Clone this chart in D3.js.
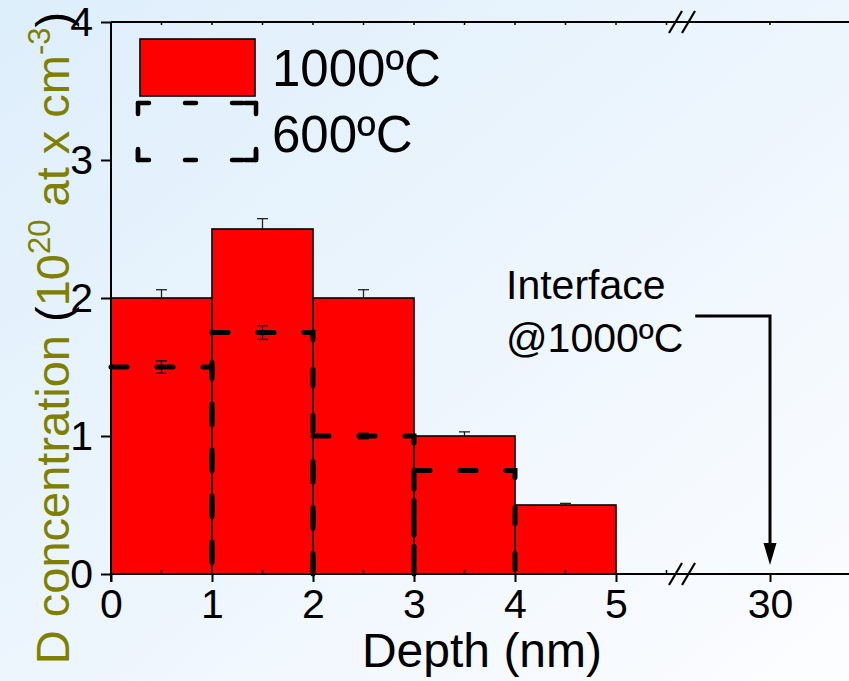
<!DOCTYPE html>
<html>
<head>
<meta charset="utf-8">
<script src="https://cdn.jsdelivr.net/npm/d3@7"></script>
<style>
  html, body { margin: 0; padding: 0; background: #ffffff; }
  svg { display: block; font-family: Arial, "Liberation Sans", sans-serif; }
</style>
</head>
<body>
<svg id="chart" width="849" height="681"></svg>
<script>
// Depth bins (nm) and deuterium concentration (10^20 at/cm^3)
const depthEdges = [0, 1, 2, 3, 4, 5];
const conc1000 = [2.0, 2.5, 2.0, 1.0, 0.5];
const err1000 = [0.06, 0.075, 0.06, 0.03, 0.012];
const conc600 = [1.5, 1.75, 1.0, 0.75];
const err600 = [0.045, 0.05, 0.02, 0.012];
const yTicks = [0, 1, 2, 3, 4];
const xTicksNear = [0, 1, 2, 3, 4, 5];
const xTicksFar = [30];
const interfaceDepth = 30;
const seriesNames = ["1000ºC", "600ºC"];

(function drawChart() {
const W = 849, H = 681;
const svg = d3.select("#chart");

// background wash
const defs = svg.append("defs");
const grad = defs.append("linearGradient").attr("id", "bg")
  .attr("x1", 0).attr("y1", 0).attr("x2", 1).attr("y2", 1);
grad.append("stop").attr("offset", 0).attr("stop-color", "#ddeefb");
grad.append("stop").attr("offset", 0.55).attr("stop-color", "#eef6fd");
grad.append("stop").attr("offset", 1).attr("stop-color", "#fcfdff");
svg.append("rect").attr("width", W).attr("height", H).attr("fill", "url(#bg)");

// broken x axis: near-surface segment and far segment around the interface
const xNear = d3.scaleLinear().domain([0, 5]).range([111, 616]);
const xFar = d3.scaleLinear().domain([29, 31]).range([669, 871]);
const y = d3.scaleLinear().domain([0, 4]).range([574, 22]);
const breakX = 682;
const plotLeft = xNear(0), plotRight = W, plotTop = y(4), plotBottom = y(0);

// 1000ºC bars
const g = svg.append("g");
conc1000.forEach((v, i) => {
  // upper error bar
  const cx = xNear((depthEdges[i] + depthEdges[i + 1]) / 2);
  g.append("line").attr("x1", cx).attr("x2", cx)
    .attr("y1", y(v)).attr("y2", y(v + err1000[i]))
    .attr("stroke", "#222").attr("stroke-width", 1.3);
  g.append("line").attr("x1", cx - 5.5).attr("x2", cx + 5.5)
    .attr("y1", y(v + err1000[i])).attr("y2", y(v + err1000[i]))
    .attr("stroke", "#222").attr("stroke-width", 1.3);
});
conc1000.forEach((v, i) => {
  g.append("rect")
    .attr("x", xNear(depthEdges[i]))
    .attr("y", y(v))
    .attr("width", xNear(depthEdges[i + 1]) - xNear(depthEdges[i]))
    .attr("height", y(0) - y(v))
    .attr("fill", "#ff0000")
    .attr("stroke", "#000").attr("stroke-width", 1.6);
});

// 600ºC bars: dashed outlines over the filled bars
// (the first bar's left side sits on the y axis and is left out)
const dashOn = 16, dashOff = 30, period = dashOn + dashOff;
conc600.forEach((v, i) => {
  const x0 = xNear(depthEdges[i]), x1 = xNear(depthEdges[i + 1]);
  const yTop = y(v), yBot = y(0);
  const leftLen = i === 0 ? 0 : yBot - yTop;
  const offset = (period - (leftLen % period)) % period;
  const d = i === 0
    ? `M${x0},${yTop} H${x1} V${yBot}`
    : `M${x0},${yBot} V${yTop} H${x1} V${yBot}`;
  g.append("path")
    .attr("d", d)
    .attr("fill", "none")
    .attr("stroke", "#000").attr("stroke-width", 5)
    .attr("stroke-linecap", "round")
    .attr("stroke-dasharray", `${dashOn},${dashOff}`)
    .attr("stroke-dashoffset", offset);
});
conc600.forEach((v, i) => {
  const cx = xNear((depthEdges[i] + depthEdges[i + 1]) / 2);
  const lo = y(v - err600[i]), hi = y(v + err600[i]);
  g.append("line").attr("x1", cx).attr("x2", cx).attr("y1", lo).attr("y2", hi)
    .attr("stroke", "#000").attr("stroke-width", 1.3);
  [lo, hi].forEach(yy => g.append("line")
    .attr("x1", cx - 5.5).attr("x2", cx + 5.5).attr("y1", yy).attr("y2", yy)
    .attr("stroke", "#000").attr("stroke-width", 1.3));
});

// axes frame lines
const axisG = svg.append("g").attr("stroke", "#000").attr("stroke-width", 2);
axisG.append("line").attr("x1", plotLeft).attr("x2", plotRight).attr("y1", plotBottom).attr("y2", plotBottom);
axisG.append("line").attr("x1", plotLeft).attr("x2", plotRight).attr("y1", plotTop).attr("y2", plotTop);
axisG.append("line").attr("x1", plotLeft).attr("x2", plotLeft).attr("y1", plotTop).attr("y2", plotBottom + 8);

// bottom axis (near + far) with outward major ticks
const tickFont = 41;
const bottomNear = d3.axisBottom(xNear).tickValues(xTicksNear).tickSize(8).tickPadding(6)
  .tickFormat(d3.format("d"));
const bottomFar = d3.axisBottom(xFar).tickValues(xTicksFar).tickSize(8).tickPadding(6)
  .tickFormat(d3.format("d"));
[bottomNear, bottomFar].forEach(ax => {
  const a = svg.append("g").attr("transform", `translate(0,${plotBottom})`).call(ax);
  a.select(".domain").remove();
  a.selectAll(".tick line").attr("stroke", "#000").attr("stroke-width", 2);
  a.selectAll(".tick text").attr("font-size", tickFont).attr("fill", "#000")
    .attr("font-family", "Arial, 'Liberation Sans', sans-serif").attr("dy", "0.72em");
});

// minor ticks (inward) on bottom, small ticks on top
const minorNear = d3.range(0.5, 5.6, 0.5);
svg.append("g").selectAll("line").data(minorNear).join("line")
  .attr("x1", d => xNear(d)).attr("x2", d => xNear(d))
  .attr("y1", plotBottom).attr("y2", plotBottom - 4)
  .attr("stroke", "#000").attr("stroke-width", 1.5);
svg.append("g").selectAll("line").data(minorNear.concat([0])).join("line")
  .attr("x1", d => xNear(d)).attr("x2", d => xNear(d))
  .attr("y1", plotTop).attr("y2", plotTop + 3)
  .attr("stroke", "#000").attr("stroke-width", 1.5);
svg.append("g").selectAll("line").data(xTicksFar).join("line")
  .attr("x1", d => xFar(d)).attr("x2", d => xFar(d))
  .attr("y1", plotTop).attr("y2", plotTop + 3)
  .attr("stroke", "#000").attr("stroke-width", 1.5);

// left axis
const leftAx = d3.axisLeft(y).tickValues(yTicks).tickSize(10).tickPadding(8)
  .tickFormat(d3.format("d"));
const la = svg.append("g").attr("transform", `translate(${plotLeft},0)`).call(leftAx);
la.select(".domain").remove();
la.selectAll(".tick line").attr("stroke", "#000").attr("stroke-width", 2);
la.selectAll(".tick text").attr("font-size", tickFont).attr("fill", "#000")
  .attr("font-family", "Arial, 'Liberation Sans', sans-serif");

// axis break marks
[plotTop, plotBottom].forEach(yy => {
  [breakX - 13, breakX].forEach(bx => {
    svg.append("line")
      .attr("x1", bx).attr("y1", yy + 11).attr("x2", bx + 13).attr("y2", yy - 11)
      .attr("stroke", "#000").attr("stroke-width", 2.2);
  });
});

// axis titles
svg.append("text")
  .attr("x", 482).attr("y", 667)
  .attr("text-anchor", "middle").attr("font-size", 48).attr("fill", "#000")
  .text("Depth (nm)");

const olive = "#808000";
const yTitle = svg.append("text")
  .attr("transform", "translate(69,338) rotate(-90)")
  .attr("text-anchor", "middle").attr("font-size", 47).attr("fill", olive);
yTitle.append("tspan").text("D concentration ");
yTitle.append("tspan").attr("fill", "#000").text("(");
yTitle.append("tspan").text("10");
yTitle.append("tspan").attr("font-size", 31).attr("dy", -19).text("20");
yTitle.append("tspan").attr("dy", 19).text(" at x cm");
yTitle.append("tspan").attr("font-size", 31).attr("dy", -19).text("-3");
yTitle.append("tspan").attr("dy", 19).attr("fill", "#000").text(")");

// legend
const leg = svg.append("g");
leg.append("rect").attr("x", 140).attr("y", 39).attr("width", 115).attr("height", 57)
  .attr("fill", "#ff0000").attr("stroke", "#000").attr("stroke-width", 1.6);
const bx0 = 138, bx1 = 256, by0 = 103, by1 = 160;
[[bx0, by0, bx1, by0], [bx1, by0, bx1, by1], [bx0, by1, bx1, by1], [bx0, by0, bx0, by1]]
  .forEach(([a, b, c, d]) => {
    leg.append("line").attr("x1", a).attr("y1", b).attr("x2", c).attr("y2", d)
      .attr("stroke", "#000").attr("stroke-width", 4.5)
      .attr("stroke-linecap", "round")
      .attr("stroke-dasharray", "11,36");
    leg.append("line").attr("x1", c).attr("y1", d).attr("x2", a).attr("y2", b)
      .attr("stroke", "#000").attr("stroke-width", 4.5)
      .attr("stroke-linecap", "round")
      .attr("stroke-dasharray", "11,200");
  });
leg.append("text").attr("x", 272).attr("y", 86).attr("font-size", 51).attr("fill", "#000")
  .text(seriesNames[0]);
leg.append("text").attr("x", 272).attr("y", 152).attr("font-size", 51).attr("fill", "#000")
  .text(seriesNames[1]);

// interface annotation
const ann = svg.append("g");
ann.append("text").attr("x", 506).attr("y", 299).attr("font-size", 41).attr("fill", "#000")
  .text("Interface");
ann.append("text").attr("x", 506).attr("y", 352).attr("font-size", 41).attr("fill", "#000")
  .text("@1000ºC");
const ax = xFar(interfaceDepth), ay = y(1.87), tipY = y(0.065);
ann.append("path")
  .attr("d", `M${xFar(29.26)},${ay} H${ax} V${tipY - 18}`)
  .attr("fill", "none").attr("stroke", "#000").attr("stroke-width", 3);
ann.append("path")
  .attr("d", `M${ax - 6.5},${tipY - 22} L${ax + 6.5},${tipY - 22} L${ax},${tipY} Z`)
  .attr("fill", "#000");
})();
</script>
</body>
</html>
